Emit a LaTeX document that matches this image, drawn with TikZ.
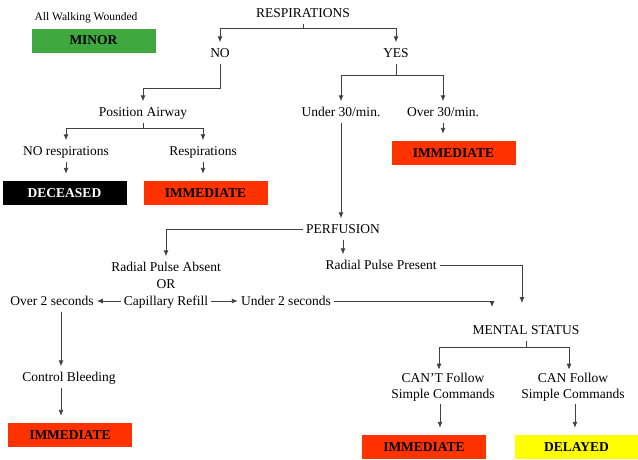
\documentclass[tikz,border=0pt]{standalone}
\usepackage{fontspec}
\setmainfont{Liberation Serif}
\usetikzlibrary{arrows.meta}
\definecolor{lc}{HTML}{404040}
\definecolor{redbox}{HTML}{FF3300}
\definecolor{greenbox}{HTML}{3FA83F}
\definecolor{yellowbox}{HTML}{FFFF00}
\begin{document}
\begin{tikzpicture}[x=1pt,y=-1pt,
  lbl/.style={font=\fontsize{13.5}{15}\selectfont, text height=9pt, text depth=0pt, inner xsep=3pt, inner ysep=6pt},
  lbltwo/.style={font=\fontsize{13.5}{16}\selectfont, align=center, inner xsep=3pt, inner ysep=3pt},
  box/.style={minimum width=124pt, minimum height=24pt, inner sep=0pt, font=\fontsize{13.5}{15}\selectfont\bfseries},
  ln/.style={draw=lc, line width=0.9pt},
  arr/.style={ln, -{Latex[length=6pt,width=5pt]}},
  arrb/.style={arr, shorten >=7pt}]
\useasboundingbox (0,0) rectangle (638,459);

% nodes
\node[lbl, font=\fontsize{11.5}{13}\selectfont] (walk) at (86,16) {All Walking Wounded};
\node[box, fill=greenbox] (minor) at (93.5,40.5) {MINOR};
\node[lbl] (resp) at (303,13) {RESPIRATIONS};
\node[lbl] (no) at (220,53) {NO};
\node[lbl] (yes) at (396,53) {YES};
\node[lbl] (pa) at (143,112) {Position Airway};
\node[lbl] (nor) at (66,151) {NO respirations};
\node[lbl] (r) at (203,151) {Respirations};
\node[box, fill=black, text=white] (dec) at (64.5,193) {DECEASED};
\node[box, fill=redbox] (imma) at (205.5,193) {IMMEDIATE};
\node[lbl] (uthirty) at (341,112) {Under 30/min.};
\node[lbl] (othirty) at (443,112) {Over 30/min.};
\node[box, fill=redbox] (immb) at (453.5,153) {IMMEDIATE};
\node[lbl] (perf) at (343,229) {PERFUSION};
\node[lbl] (rpa) at (166,267) {Radial Pulse Absent};
\node[lbl] (or) at (166,284) {OR};
\node[lbl] (cap) at (166,301) {Capillary Refill};
\node[lbl] (otwo) at (52,301) {Over 2 seconds};
\node[lbl] (utwo) at (286,301) {Under 2 seconds};
\node[lbl] (rpp) at (381,265) {Radial Pulse Present};
\node[lbl] (ms) at (526,330) {MENTAL STATUS};
\node[lbltwo] (cant) at (443,387) {CAN'T Follow\\Simple Commands};
\node[lbltwo] (can) at (573,387) {CAN Follow\\Simple Commands};
\node[box, fill=redbox] (immc) at (424,447) {IMMEDIATE};
\node[box, fill=yellowbox] (del) at (576.5,447) {DELAYED};
\node[lbl] (cb) at (69,377) {Control Bleeding};
\node[box, fill=redbox] (immd) at (70,435) {IMMEDIATE};

% junctions
\coordinate (ja) at (303,28);
\coordinate (jb) at (220,88);
\coordinate (jc) at (143,128);
\coordinate (jd) at (396,75);
\coordinate (je) at (526,347);
\coordinate (ta) at (492,307);
\coordinate (tb) at (522,303);

% connectors
\draw[ln] (resp.south) -- (ja);
\draw[arr] (ja) -| (no.north);
\draw[arr] (ja) -| (yes.north);
\draw[arr] (no.south) -- (jb) -| (pa.north);
\draw[ln] (pa.south) -- (jc);
\draw[arr] (jc) -| (nor.north);
\draw[arr] (jc) -| (r.north);
\draw[arrb] (nor.south) -- (nor.south |- dec.north);
\draw[arrb] (r.south) -- (r.south |- imma.north);
\draw[ln] (yes.south) -- (jd);
\draw[arr] (jd) -| (uthirty.north);
\draw[arr] (jd) -| (othirty.north);
\draw[arrb] (othirty.south) -- (othirty.south |- immb.north);
\draw[arr] (uthirty.south) -- (uthirty.south |- perf.north);
\draw[arr] (perf.west) -| (rpa.north);
\draw[arr] (perf.south) -- (perf.south |- rpp.north);
\draw[arr] (cap.west) -- (otwo.east);
\draw[arr] (cap.east) -- (utwo.west);
\draw[arr] (utwo.east) -| (ta);
\draw[arr] (rpp.east) -| (tb);
\draw[arr] ([xshift=9pt]otwo.south) -- ([xshift=9pt]otwo.south |- cb.north);
\draw[arrb] ([xshift=-8pt]cb.south) -- ([xshift=-8pt]cb.south |- immd.north);
\draw[ln] (ms.south) -- (je);
\draw[arr] (je) -| ([xshift=-4pt]cant.north);
\draw[arr] (je) -| ([xshift=-4pt]can.north);
\draw[arrb] ([xshift=-3pt]cant.south) -- ([xshift=-3pt]cant.south |- immc.north);
\draw[arrb] ([xshift=2pt]can.south) -- ([xshift=2pt]can.south |- del.north);
\end{tikzpicture}
\end{document}
